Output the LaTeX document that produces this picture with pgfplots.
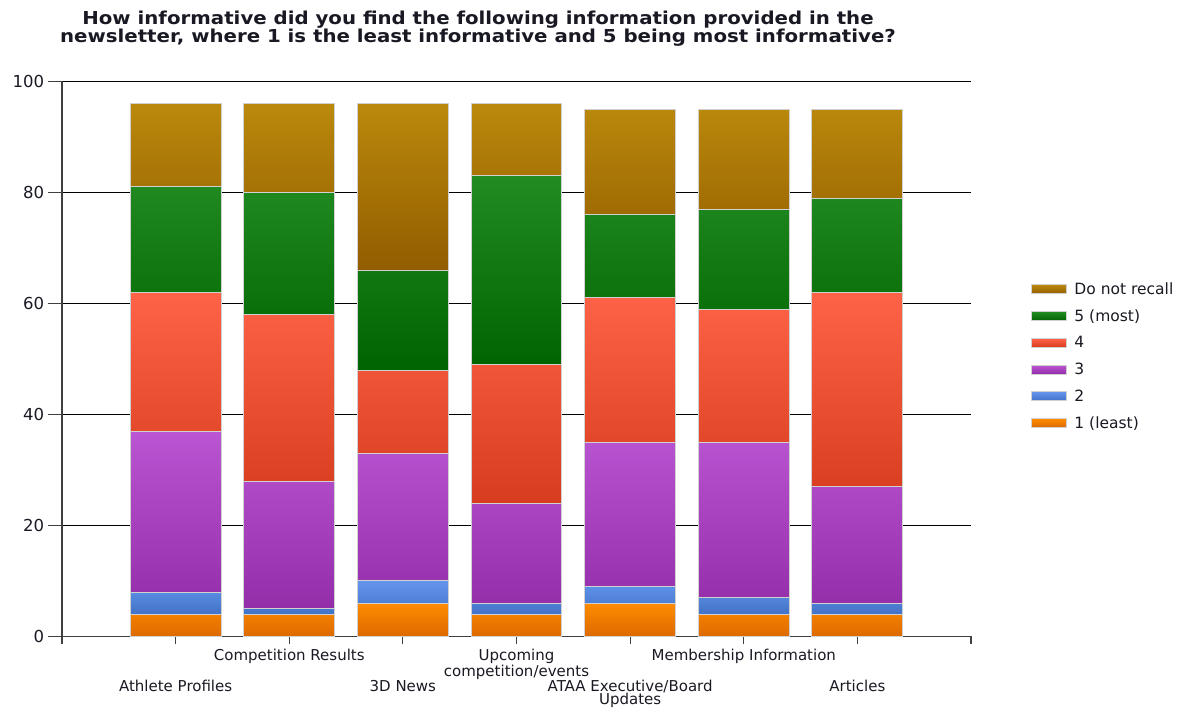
\documentclass[border=0pt]{standalone}
\usepackage{fontspec}
\setmainfont{DejaVu Sans}
\newfontfamily\titlefont[FakeStretch=1.11]{DejaVu Sans}
\usepackage{pgfplots}
\usepackage{pgfplotstable}
\pgfplotsset{compat=1.18}

% gradient end colours for each rating
\definecolor{dnrTop}{RGB}{186,137,12}
\definecolor{dnrBot}{RGB}{146,93,0}
\definecolor{fiveTop}{RGB}{34,139,34}
\definecolor{fiveBot}{RGB}{0,100,0}
\definecolor{fourTop}{RGB}{255,99,71}
\definecolor{fourBot}{RGB}{215,60,30}
\definecolor{threeTop}{RGB}{186,85,211}
\definecolor{threeBot}{RGB}{148,45,168}
\definecolor{twoTop}{RGB}{100,149,237}
\definecolor{twoBot}{RGB}{65,115,200}
\definecolor{oneTop}{RGB}{255,140,0}
\definecolor{oneBot}{RGB}{220,105,0}
\definecolor{axisgray}{RGB}{64,64,64}
\definecolor{labeltext}{RGB}{25,25,35}

% number of responses per rating, one row per newsletter item
\pgfplotstableread{
x one two three four five dnr
1 4 4 29 25 19 15
2 4 1 23 30 22 16
3 6 4 23 15 18 30
4 4 2 18 25 34 13
5 6 3 26 26 15 19
6 4 3 28 24 18 18
7 4 2 21 35 17 16
}\ratings

% fixed first-line height so both label rows sit on set baselines
\newcommand{\fl}{\rule{0pt}{12bp}}

\begin{document}
\begin{tikzpicture}[x=1bp,y=1bp]
\useasboundingbox (0,0) rectangle (1191,709);
\node[font=\titlefont\fontsize{17.8bp}{18bp}\selectfont\bfseries, align=center,
      anchor=north, inner sep=0pt, text=labeltext] at (478,699)
  {\rule{0pt}{14bp}How informative did you find the following information provided in the\\
   newsletter, where 1 is the least informative and 5 being most informative?};
\begin{axis}[
  scale only axis,
  width=909bp, height=555bp,
  at={(62bp,72.5bp)}, anchor=south west,
  ybar stacked,
  bar width=0.8,
  xmin=0, xmax=8, ymin=0, ymax=100,
  axis x line*=bottom, axis y line*=left,
  axis line style={axisgray, line width=1.6bp},
  xtick={0,1,2,3,4,5,6,7,8},
  xticklabels={{},
    {\fl\\[18bp]Athlete Profiles},
    {\fl Competition Results},
    {\fl\\[18bp]3D News},
    {\fl Upcoming\\competition/events},
    {\fl\\[18bp]ATAA Executive/Board\\Updates},
    {\fl Membership Information},
    {\fl\\[18bp]Articles},
    {}},
  xticklabel style={align=center, anchor=north, inner sep=0pt, text=labeltext,
    font=\fontsize{15bp}{13bp}\selectfont, yshift=-8bp},
  ytick={0,20,40,60,80,100},
  yticklabel style={font=\fontsize{16.5bp}{20bp}\selectfont, xshift=-10bp,
    text=labeltext},
  /pgf/number format/assume math mode=true,
  tick align=outside,
  xtick style={axisgray, line width=1.2bp, /pgfplots/major tick length=8bp},
  ytick style={axisgray, line width=1.2bp, /pgfplots/major tick length=14bp},
  ymajorgrids,
  grid style={black, line width=1.2bp},
  every axis plot/.append style={draw=black!18, line width=1bp},
  reverse legend,
  legend cell align=left,
  legend image code/.code={\draw[#1] (0bp,-4.5bp) rectangle (35bp,4.5bp);
    \path (40bp,0bp);},
  legend style={at={(1.063,0.505)}, anchor=west, draw=none, fill=none,
    text=labeltext,
    font=\fontsize{15.5bp}{18bp}\selectfont, row sep=9.7bp},
]
\addplot[top color=oneTop, bottom color=oneBot] table[x=x, y=one] {\ratings};
\addlegendentry{1 (least)}
\addplot[top color=twoTop, bottom color=twoBot] table[x=x, y=two] {\ratings};
\addlegendentry{2}
\addplot[top color=threeTop, bottom color=threeBot] table[x=x, y=three] {\ratings};
\addlegendentry{3}
\addplot[top color=fourTop, bottom color=fourBot] table[x=x, y=four] {\ratings};
\addlegendentry{4}
\addplot[top color=fiveTop, bottom color=fiveBot] table[x=x, y=five] {\ratings};
\addlegendentry{5 (most)}
\addplot[top color=dnrTop, bottom color=dnrBot] table[x=x, y=dnr] {\ratings};
\addlegendentry{Do not recall}
\end{axis}
\end{tikzpicture}
\end{document}
